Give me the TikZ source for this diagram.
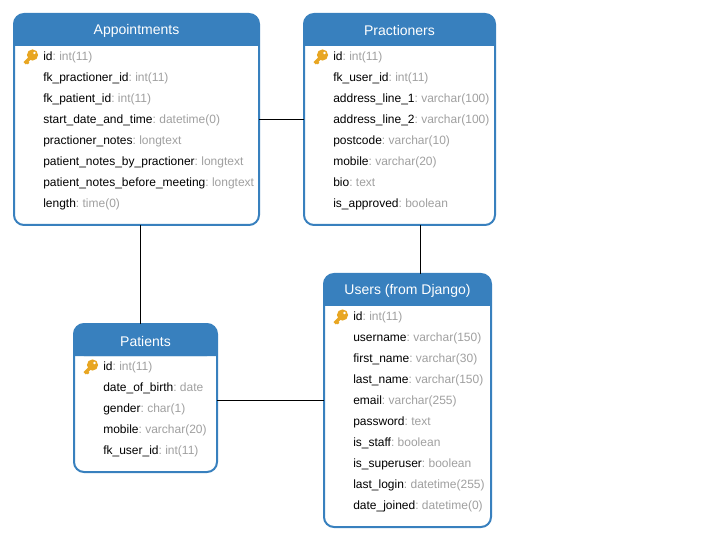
\documentclass[tikz,border=0pt]{standalone}
\usepackage{fontspec}
\setmainfont{Liberation Sans}
\usepackage{xcolor}
\usetikzlibrary{positioning}
\definecolor{tableblue}{HTML}{3880BE}
\definecolor{typegray}{HTML}{A0A0A0}
\definecolor{keygold}{HTML}{E8A622}
\frenchspacing
\tikzset{table/.style={draw=tableblue,line width=1.5pt,rounded corners=7.5pt,fill=white,inner sep=0pt,outer sep=0pt,anchor=north west}}
\tikzset{tabletitle/.style={text=white,font=\fontsize{10.5}{12}\selectfont,inner sep=0pt}}
\tikzset{column/.style={anchor=west,inner sep=0pt,text height=6.6pt,text depth=1.8pt,font=\fontsize{9}{10}\selectfont}}
\tikzset{link/.style={draw=black,line width=0.75pt}}
\tikzset{keyicon/.pic={
\fill[keygold,even odd rule] (1.5,-2) circle (5.6) (3.4,-4) circle (1.6);
\draw[keygold,line width=2.4pt] (-1,1) -- (-6.3,6.3);
\draw[keygold,line width=1.8pt] (-4.5,4.5) -- (-2.4,6.6);
}}
\newcommand{\typename}[1]{\textcolor{typegray}{#1}}
\begin{document}
\begin{tikzpicture}[x=0.75pt,y=-0.75pt]
\useasboundingbox (0,0) rectangle (713,541);
% tables
\node[table,minimum width=183.75pt,minimum height=158.25pt] (appointments) at (14,14) {};
\node[table,minimum width=143.25pt,minimum height=158.25pt] (practioners) at (304,14) {};
\node[table,minimum width=107.25pt,minimum height=111pt] (patients) at (74,324) {};
\node[table,minimum width=125.25pt,minimum height=189.75pt] (users) at (324,274) {};
% headers
\fill[tableblue,rounded corners=7.5pt] (14,46) -- (14,14) -- (259,14) -- (259,46) -- cycle;
\fill[tableblue,rounded corners=7.5pt] (304,46) -- (304,14) -- (495,14) -- (495,46) -- cycle;
\fill[tableblue,rounded corners=7.5pt] (74,356) -- (74,324) -- (217,324) -- (217,356) -- cycle;
\fill[tableblue,rounded corners=7.5pt] (324,306) -- (324,274) -- (491,274) -- (491,306) -- cycle;
\fill[tableblue] (14,36) rectangle (259,46) (304,36) rectangle (495,46) (74,346) rectangle (217,356) (324,296) rectangle (491,306);
\node[tabletitle] (appointmentstitle) at (136.5,31) {Appointments};
\node[tabletitle] (practionerstitle) at (399.5,31) {Practioners};
\node[tabletitle] (patientstitle) at (145.5,341) {Patients};
\node[tabletitle] (userstitle) at (407.5,291) {Users (from Django)};
% columns
\foreach \n/\t [count=\i from 0] in {id/int(11),fk\_practioner\_id/int(11),fk\_patient\_id/int(11),start\_date\_and\_time/datetime(0),practioner\_notes/longtext,patient\_notes\_by\_practioner/longtext,patient\_notes\_before\_meeting/longtext,length/time(0)}
  \node[column] (appointments\i) at (43,57.5+21*\i) {\n\typename{: \t}};
\foreach \n/\t [count=\i from 0] in {id/int(11),fk\_user\_id/int(11),address\_line\_1/varchar(100),address\_line\_2/varchar(100),postcode/varchar(10),mobile/varchar(20),bio/text,is\_approved/boolean}
  \node[column] (practioners\i) at (333,57.5+21*\i) {\n\typename{: \t}};
\foreach \n/\t [count=\i from 0] in {id/int(11),date\_of\_birth/date,gender/char(1),mobile/varchar(20),fk\_user\_id/int(11)}
  \node[column] (patients\i) at (103,367.5+21*\i) {\n\typename{: \t}};
\foreach \n/\t [count=\i from 0] in {id/int(11),username/varchar(150),first\_name/varchar(30),last\_name/varchar(150),email/varchar(255),password/text,is\_staff/boolean,is\_superuser/boolean,last\_login/datetime(255),date\_joined/datetime(0)}
  \node[column] (users\i) at (353,317.5+21*\i) {\n\typename{: \t}};
% keys
\pic at (31,57) {keyicon};
\pic at (321,57) {keyicon};
\pic at (91,367) {keyicon};
\pic at (341,317) {keyicon};
% links
\draw[link] (appointments.east) -- (practioners.west);
\draw[link] ([xshift=2.625pt]appointments.south) -- ([xshift=-4.125pt]patients.north);
\draw[link] ([xshift=15.375pt]practioners.south) -- ([xshift=9.375pt]users.north);
\draw[link] (patients.east |- users.west) -- (users.west);
\end{tikzpicture}
\end{document}
